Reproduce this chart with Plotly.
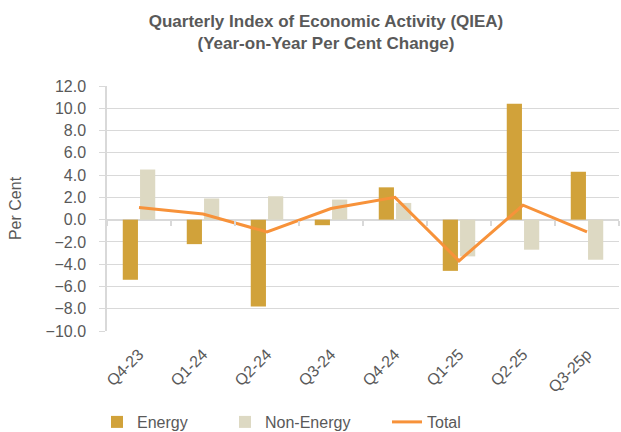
import plotly.graph_objects as go

categories = ["Q4-23", "Q1-24", "Q2-24", "Q3-24", "Q4-24", "Q1-25", "Q2-25", "Q3-25p"]
energy = [-5.4, -2.2, -7.8, -0.5, 2.9, -4.6, 10.4, 4.3]
non_energy = [4.5, 1.9, 2.1, 1.8, 1.5, -3.3, -2.7, -3.6]
total = [1.1, 0.5, -1.1, 1.0, 2.0, -3.7, 1.3, -1.1]
y_ticks = [12, 10, 8, 6, 4, 2, 0, -2, -4, -6, -8, -10]
y_min, y_max = -10, 12

FONT = "Liberation Sans"
GREY = "#595959"
GRID = "#D9D9D9"
W, H = 621, 432

fig = go.Figure()
fig.add_trace(go.Bar(x=categories, y=energy, name="Energy", legend="legend",
                     marker=dict(color="#D1A23A", line=dict(width=0))))
fig.add_trace(go.Bar(x=categories, y=non_energy, name="Non-Energy", legend="legend2",
                     marker=dict(color="#DDD9C3", line=dict(width=0))))
fig.add_trace(go.Scatter(x=categories, y=total, name="Total", mode="lines", legend="legend3",
                         line=dict(color="#F7923A", width=3)))
# invisible helper trace so the zero-line tick axis knows the categories
fig.add_trace(go.Scatter(x=categories, y=total, xaxis="x2", mode="none",
                         showlegend=False, hoverinfo="skip"))


def leg(text_x):
    return dict(orientation="h", xref="container", yref="container",
                x=(text_x - 40) / W, xanchor="left", y=27 / H, yanchor="top",
                font=dict(size=16, color=GREY), bgcolor="rgba(0,0,0,0)")


n = len(categories)
fig.update_layout(
    width=W, height=H,
    paper_bgcolor="white", plot_bgcolor="white",
    margin=dict(l=107, r=2, t=86, b=101, autoexpand=False),
    barmode="group", bargap=0.46, bargroupgap=0.12,
    font=dict(family=FONT, color=GREY, size=16),
    title=dict(
        text="<b>Quarterly Index of Economic Activity (QIEA)</b><br><b>(Year-on-Year Per Cent Change)</b>",
        x=326 / W, xanchor="center", xref="container",
        y=1 - 27 / H, yanchor="top", yref="container",
        font=dict(family=FONT, size=17, color=GREY),
    ),
    showlegend=True,
    legend=leg(137),
    legend2=leg(265),
    legend3=leg(427),
    xaxis=dict(
        type="category", categoryorder="array", categoryarray=categories,
        range=[-0.5, n - 0.5],
        tickangle=-45, tickfont=dict(size=16, color=GREY), automargin=False,
        showline=False, showgrid=False, ticks="", ticklabelstandoff=10,
        zeroline=False,
    ),
    xaxis2=dict(
        type="category", categoryorder="array", categoryarray=categories,
        range=[-0.5, n - 0.5],
        overlaying="x", anchor="free",
        position=(0 - y_min) / (y_max - y_min),
        side="bottom", ticks="outside", tickson="boundaries",
        ticklen=5, tickcolor=GRID, tickwidth=1.5,
        showticklabels=False, showgrid=False, showline=False,
        zeroline=False, automargin=False,
    ),
)
fig.update_yaxes(
    range=[y_min, y_max], tickvals=y_ticks, tickformat=".1f", automargin=False,
    showgrid=True, gridcolor=GRID, gridwidth=1,
    zeroline=True, zerolinecolor=GRID, zerolinewidth=1.5,
    showline=True, linecolor=GRID, linewidth=1.5,
    ticks="outside", ticklen=6, tickcolor=GRID, tickwidth=1,
    ticklabelstandoff=10,
    tickfont=dict(size=16, color=GREY),
    title=dict(text="Per Cent", font=dict(size=16, color=GREY), standoff=20),
)

fig.write_html("out.html", config={"displayModeBar": False},
               post_script="document.body.style.margin='0';")
